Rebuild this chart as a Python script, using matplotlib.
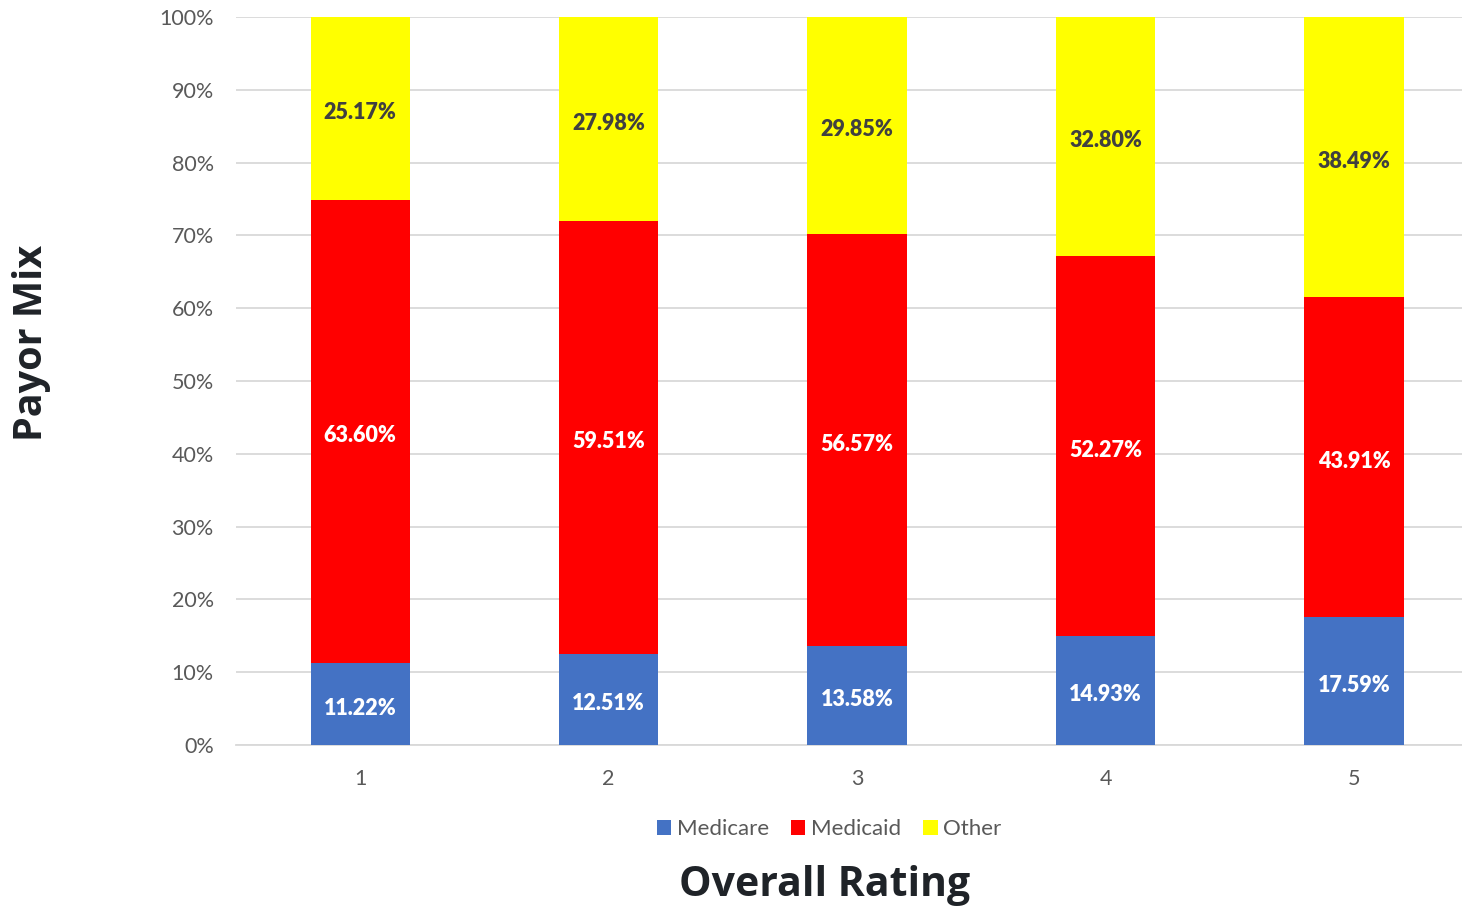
import numpy as np
import matplotlib
matplotlib.use("Agg")
import matplotlib.pyplot as plt

ratings = ["1", "2", "3", "4", "5"]
medicare = [11.22, 12.51, 13.58, 14.93, 17.59]
medicaid = [63.60, 59.51, 56.57, 52.27, 43.91]
other = [25.17, 27.98, 29.85, 32.80, 38.49]

series_names = ["Medicare", "Medicaid", "Other"]
colors = ["#4472C4", "#FF0000", "#FFFF00"]
label_colors = ["white", "white", "#404040"]

plt.rcParams['font.family'] = ['Lato', 'DejaVu Sans']

fig = plt.figure(figsize=(14.62, 9.06), dpi=100)
ax = fig.add_axes([236/1462, 1-745/906, (1462-236)/1462, (745-17)/906])

x = np.arange(1, len(ratings)+1)
bottom = np.zeros(len(ratings))
for vals, name, c, lc in zip([medicare, medicaid, other], series_names, colors, label_colors):
    vals = np.array(vals)
    ax.bar(x, vals, 0.4, bottom=bottom, color=c, label=name, zorder=3)
    for xi, b, v in zip(x, bottom, vals):
        ax.text(xi, b + v/2 - 0.3, "%.2f%%" % v, ha='center', va='center_baseline',
                color=lc, fontsize=15.5, fontweight='heavy', zorder=4)
    bottom = bottom + vals

ax.set_xlim(0.5, 5.435)
ax.set_ylim(0, 100)
ax.set_yticks(np.arange(0, 101, 10))
ax.set_yticklabels(["%d%%" % v for v in range(0, 101, 10)])
ax.set_xticks(x)
ax.set_xticklabels(ratings)
ax.tick_params(axis='both', length=0, labelsize=15.5, colors='#595959')
ax.tick_params(axis='y', pad=16)
ax.tick_params(axis='x', pad=17)
ax.grid(axis='y', color='#D9D9D9', linewidth=1.3, zorder=0)
for s in ['top', 'right', 'left']:
    ax.spines[s].set_visible(False)
ax.spines['bottom'].set_color('#D9D9D9')
ax.spines['bottom'].set_linewidth(1.3)

fig.text(32/1462, 1-343/906, "Payor Mix", rotation=90, ha='center', va='center',
         fontsize=28.5, fontweight='bold', color='#1F2328', family=['Open Sans', 'DejaVu Sans'])
fig.text(825/1462, 1-886/906, "Overall Rating", ha='center', va='center',
         fontsize=29.5, fontweight='bold', color='#1F2328', family=['Open Sans', 'DejaVu Sans'])

leg = fig.legend(loc='center', bbox_to_anchor=(829/1462, 1-829/906), ncol=3, frameon=False,
                 fontsize=16, handlelength=0.65, handleheight=0.65, handletextpad=0.25,
                 columnspacing=1.0)
for t in leg.get_texts():
    t.set_color('#595959')

fig.savefig("out.png", dpi=100)
